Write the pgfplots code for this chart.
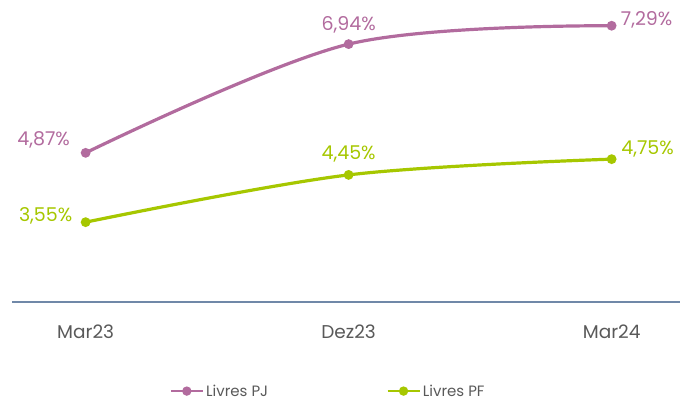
\documentclass[border=0pt]{standalone}
\usepackage{pgfplots}
\pgfplotsset{compat=1.18}
\usepackage{fontspec}
\setmainfont{Poppins}
\definecolor{pj}{RGB}{178,107,158}
\definecolor{pf}{RGB}{166,199,0}
\definecolor{axisblue}{RGB}{112,136,168}
\definecolor{txtgray}{RGB}{89,89,89}

\begin{document}
\begin{tikzpicture}
  \begin{axis}[
      scale only axis,
      width=668pt, height=302pt,
      at={(12pt,100pt)}, anchor=south west,
      xmin=-0.28, xmax=2.26,
      ymin=2.03, ymax=7.78,
      axis y line=none,
      axis x line*=bottom,
      x axis line style={axisblue, line width=1.3pt, -},
      xtick={0,1,2},
      xticklabels={Mar23,Dez23,Mar24},
      major tick length=0pt,
      xticklabel style={font=\fontsize{18.5}{20}\selectfont, text=txtgray, yshift=-19pt},
      clip=false,
      every axis plot/.append style={line width=3.2pt, smooth, tension=0.55, mark=*, mark size=3.2pt},
      point meta=y,
      nodes near coords={\pgfmathprintnumber[fixed, fixed zerofill, precision=2, use comma, assume math mode=true]{\pgfplotspointmeta}\%},
      visualization depends on={\thisrow{dx}\as\dx},
      visualization depends on={\thisrow{dy}\as\dy},
      every node near coord/.append style={anchor=center, xshift=\dx pt, yshift=\dy pt, font=\fontsize{19}{21}\selectfont},
      legend columns=2,
      legend style={at={(0.473,-0.295)}, anchor=center, draw=none, fill=none,
        font=\fontsize{15}{17}\selectfont, text=txtgray,
        /tikz/every even column/.append style={column sep=116pt},
        /tikz/every odd column/.append style={column sep=0pt}},
      legend image code/.code={
        \draw[mark repeat=2, mark phase=2, line width=2.8pt]
          plot coordinates {(0pt,0pt) (16pt,0pt) (32pt,0pt)};},
    ]
    \addplot[pj, every node near coord/.append style={text=pj}] table {
      x y dx dy
      0 4.87 -42 13
      1 6.94 0 19
      2 7.29 35 6
    };
    \addlegendentry{Livres PJ}
    \addplot[pf, every node near coord/.append style={text=pf}] table {
      x y dx dy
      0 3.55 -40 6
      1 4.45 0 21
      2 4.75 36 10
    };
    \addlegendentry{Livres PF}
  \end{axis}
  \pgfresetboundingbox
  \path (0pt,0pt) rectangle (680pt,402pt);
\end{tikzpicture}
\end{document}
